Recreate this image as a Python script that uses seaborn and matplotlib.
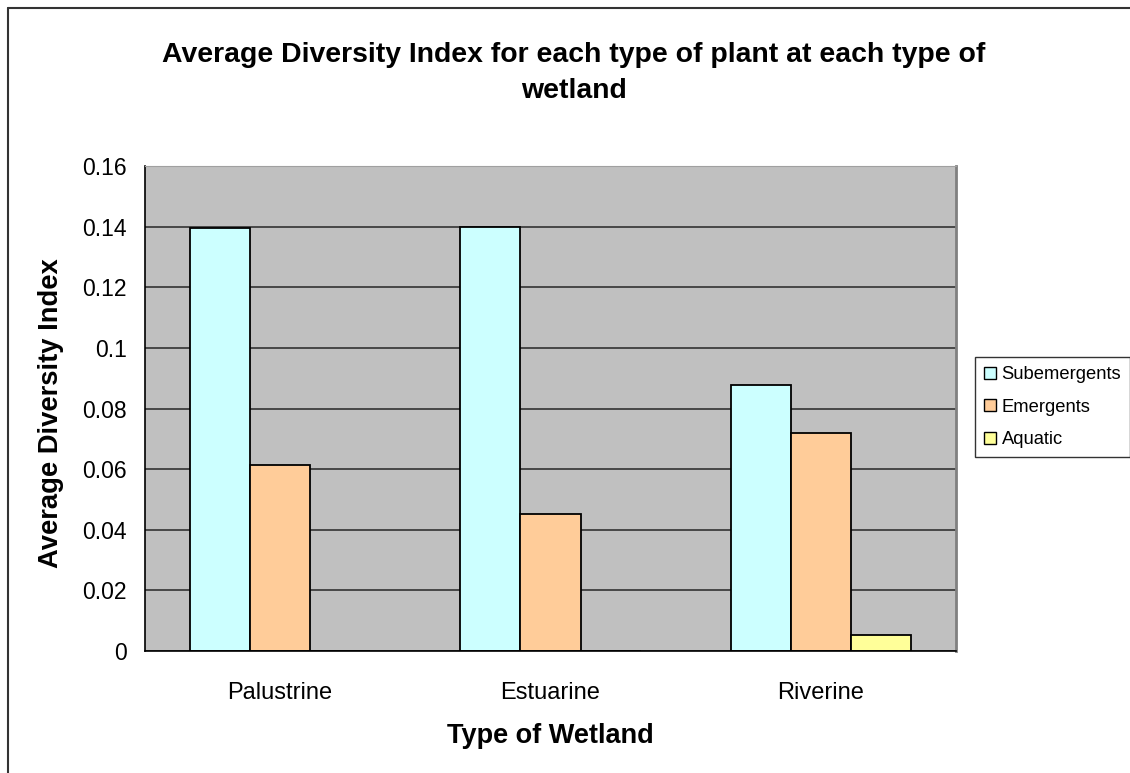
# average diversity index by wetland type, excel-style bar chart

import matplotlib.pyplot as plt
import matplotlib
import numpy as np
import pandas as pd
import seaborn as sns

wetlands = ['Palustrine', 'Estuarine', 'Riverine']
plant_types = ['Subemergents', 'Emergents', 'Aquatic']
subemergents = [0.1394, 0.1398, 0.0876]
emergents = [0.0615, 0.0453, 0.0720]
aquatic = [0.0, 0.0, 0.0052]
yticks = [0, 0.02, 0.04, 0.06, 0.08, 0.1, 0.12, 0.14, 0.16]
ytick_labels = ['0', '0.02', '0.04', '0.06', '0.08', '0.1', '0.12', '0.14', '0.16']

colors = ['#CCFFFF', '#FFCC99', '#FFFF99']

df = pd.DataFrame({
  'Type of Wetland': wetlands * 3,
  'Plant': [p for p in plant_types for _ in wetlands],
  'Average Diversity Index': subemergents + emergents + aquatic,
})

sns.set_style('white')
plt.rcParams['font.family'] = ['Liberation Sans', 'DejaVu Sans']
plt.rcParams.update({'text.color': 'black', 'axes.labelcolor': 'black',
                     'xtick.color': 'black', 'ytick.color': 'black'})

f = plt.figure(figsize=(11.3, 7.73), dpi=100)
ax = f.add_axes([145/1130, 1-651/773, (956-145)/1130, (651-166)/773])
ax.set_facecolor('#C0C0C0')

sns.barplot(data=df, x='Type of Wetland', y='Average Diversity Index', hue='Plant',
            order=wetlands, hue_order=plant_types, palette=colors, saturation=1,
            width=0.667, gap=0, edgecolor='black', linewidth=1.3, ax=ax, legend=True)

ax.set_xlim(-0.5, 2.5)
ax.set_ylim(0, 0.16)
ax.set_yticks(yticks)
ax.set_yticklabels(ytick_labels)
ax.yaxis.grid(True, color='#333333', lw=1.2)
ax.set_axisbelow(True)

# category ticks sit on the boundaries, labels in the middle
ax.set_xticks([-0.5, 0.5, 1.5, 2.5])
ax.set_xticklabels([])
ax.set_xticks([0, 1, 2], minor=True)
ax.set_xticklabels(wetlands, minor=True)
ax.tick_params(axis='x', which='major', direction='out', length=8, width=1, color='black')
ax.tick_params(axis='x', which='minor', length=0, pad=22, labelsize=17)
ax.tick_params(axis='y', direction='out', length=7, width=1, color='black', pad=6, labelsize=16.5)

for s in ['left', 'bottom']:
  ax.spines[s].set_color('black')
  ax.spines[s].set_linewidth(1.2)
ax.spines['top'].set_color('#A0A0A0')
ax.spines['right'].set_color('#808080')
ax.spines['right'].set_linewidth(2)

ax.set_xlabel('Type of Wetland', fontsize=19.5, fontweight='bold')
ax.xaxis.set_label_coords(0.5, -0.148)
ax.set_ylabel('Average Diversity Index', fontsize=19.7, fontweight='bold')
ax.yaxis.set_label_coords(-0.100, 0.49)

f.text(574/1130, 1-73/773,
       'Average Diversity Index for each type of plant at each type of\nwetland',
       ha='center', va='center', fontsize=20.4, fontweight='bold', linespacing=1.45)

leg = ax.legend(loc='upper left', bbox_to_anchor=(975/1130, 1-357/773),
                bbox_transform=f.transFigure, fontsize=13.2, frameon=True,
                fancybox=False, handlelength=0.65, handleheight=0.65,
                handletextpad=0.3, labelspacing=0.85, borderaxespad=0,
                borderpad=0.5)
leg.get_frame().set_edgecolor('black')
leg.get_frame().set_linewidth(1)
for h in leg.legend_handles:
  h.set_edgecolor('black')
  h.set_linewidth(1)

# outer chart border (right and bottom edges fall outside the image)
f.add_artist(matplotlib.lines.Line2D([8/1130, 8/1130], [0, 1-8/773], color='#333333', lw=1.5, transform=f.transFigure))
f.add_artist(matplotlib.lines.Line2D([8/1130, 1], [1-8/773, 1-8/773], color='#333333', lw=1.5, transform=f.transFigure))

f.savefig('out.png', dpi=100)
